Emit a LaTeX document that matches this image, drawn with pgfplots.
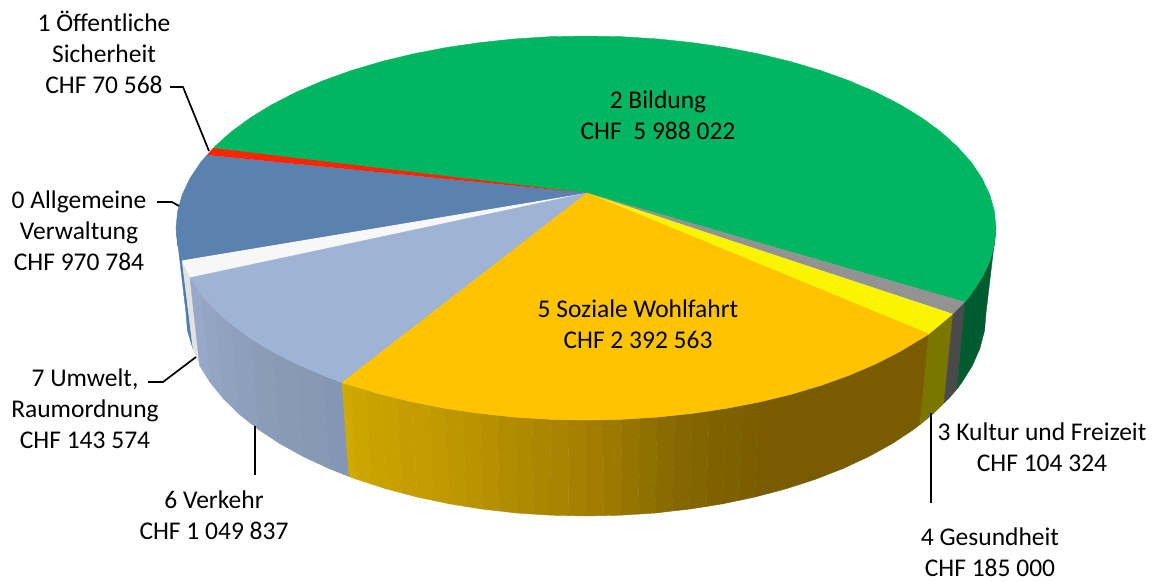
\documentclass[border=0pt]{standalone}
\usepackage{fontspec}
\setmainfont{Carlito}
\usepackage{pgfplots}
\pgfplotsset{compat=1.18}
\definecolor{l0}{HTML}{98A8C8}\definecolor{l1}{HTML}{94A5C4}\definecolor{l2}{HTML}{90A2C0}
\definecolor{l3}{HTML}{8D9FBC}\definecolor{l4}{HTML}{8A9CB8}\definecolor{l5}{HTML}{879AB6}
\definecolor{l6}{HTML}{8598B4}\definecolor{l7}{HTML}{8397B4}
\definecolor{gtop}{HTML}{00B660}\definecolor{btop}{HTML}{5A81AF}\definecolor{ltop}{HTML}{9FB3D4}
\definecolor{otop}{HTML}{FFC300}\definecolor{ytop}{HTML}{F9F400}\definecolor{grtop}{HTML}{939393}
\definecolor{rtop}{HTML}{FF2400}\definecolor{wtop}{HTML}{F7F7F7}
\definecolor{gside}{HTML}{005C2E}\definecolor{grside}{HTML}{4A4A4A}\definecolor{yside}{HTML}{7A7600}
\definecolor{bside}{HTML}{4F7CAC}\definecolor{wside}{HTML}{E2E2E2}
\pgfplotsset{s/.style={fill=#1,draw=#1,line width=0.4pt},ld/.style={black,line width=1.7pt,line join=round}}
\definecolor{a0}{HTML}{CFA800}\definecolor{a1}{HTML}{CBA500}\definecolor{a2}{HTML}{C8A300}
\definecolor{a3}{HTML}{C6A100}\definecolor{a4}{HTML}{C49E00}\definecolor{a5}{HTML}{C39D00}
\definecolor{a6}{HTML}{C09A00}\definecolor{a7}{HTML}{BD9700}\definecolor{a8}{HTML}{B99300}
\definecolor{a9}{HTML}{B69000}\definecolor{a10}{HTML}{B28C00}\definecolor{a11}{HTML}{AF8900}
\definecolor{a12}{HTML}{AC8600}\definecolor{a13}{HTML}{A98400}\definecolor{a14}{HTML}{A68000}
\definecolor{a15}{HTML}{A27D00}\definecolor{a16}{HTML}{9D7900}\definecolor{a17}{HTML}{967400}
\definecolor{a18}{HTML}{8F7000}\definecolor{a19}{HTML}{8A6B00}\definecolor{a20}{HTML}{866600}
\definecolor{a21}{HTML}{826400}\definecolor{a22}{HTML}{7F6200}\definecolor{a23}{HTML}{7D6000}
\definecolor{a24}{HTML}{7B5E00}\definecolor{a25}{HTML}{7A5C00}
\begin{document}
\begin{tikzpicture}
\begin{axis}[width=1164pt,height=581pt,scale only axis,hide axis,clip=false,
  xmin=0,xmax=1164,ymin=0,ymax=581,y dir=reverse,
  nodes={font=\fontsize{25.5}{31}\selectfont,align=center,inner sep=0pt,text=black}]
\path (axis cs:0,0) rectangle (axis cs:1164,581);
% side walls
\addplot[s=bside] coordinates {(176,228)(177.6,244.7)(182.2,261.3)(193,349)(187.5,330.7)(186,313)} --cycle;
\addplot[s=wside] coordinates {(182.2,261.3)(190,277.7)(199.6,365.5)(193,349)} --cycle;
\addplot[s=l0] coordinates {(190,277.7)(200.7,293.7)(210.1,382.4)(199.6,365.5)} --cycle;
\addplot[s=l1] coordinates {(200.7,293.7)(214.4,309.1)(223.5,398.8)(210.1,382.4)} --cycle;
\addplot[s=l2] coordinates {(214.4,309.1)(230.9,324)(239.6,414.5)(223.5,398.8)} --cycle;
\addplot[s=l3] coordinates {(230.9,324)(250.1,338.1)(258.3,429.4)(239.6,414.5)} --cycle;
\addplot[s=l4] coordinates {(250.1,338.1)(271.9,351.4)(279.6,443.5)(258.3,429.4)} --cycle;
\addplot[s=l5] coordinates {(271.9,351.4)(296.1,363.8)(303.2,456.5)(279.6,443.5)} --cycle;
\addplot[s=l6] coordinates {(296.1,363.8)(322.5,375.1)(328.9,468.5)(303.2,456.5)} --cycle;
\addplot[s=l7] coordinates {(322.5,375.1)(342,382.6)(349,476.5)(328.9,468.5)} --cycle;
\addplot[s=a0] coordinates {(342,382.6)(350.8,385.3)(356.6,479.3)(349,476.5)} --cycle;
\addplot[s=a1] coordinates {(350.8,385.3)(365.9,389.8)(371.3,484)(356.6,479.3)} --cycle;
\addplot[s=a2] coordinates {(365.9,389.8)(381,394.3)(386,488.8)(371.3,484)} --cycle;
\addplot[s=a3] coordinates {(381,394.3)(396.9,398.2)(401.5,492.9)(386,488.8)} --cycle;
\addplot[s=a4] coordinates {(396.9,398.2)(412.7,402)(417,497)(401.5,492.9)} --cycle;
\addplot[s=a5] coordinates {(412.7,402)(429.3,405.2)(433.1,500.4)(417,497)} --cycle;
\addplot[s=a6] coordinates {(429.3,405.2)(445.8,408.4)(449.2,503.8)(433.1,500.4)} --cycle;
\addplot[s=a7] coordinates {(445.8,408.4)(462.9,410.9)(465.9,506.5)(449.2,503.8)} --cycle;
\addplot[s=a8] coordinates {(462.9,410.9)(479.9,413.4)(482.5,509.1)(465.9,506.5)} --cycle;
\addplot[s=a9] coordinates {(479.9,413.4)(497.4,415.3)(499.5,511)(482.5,509.1)} --cycle;
\addplot[s=a10] coordinates {(497.4,415.3)(514.8,417.1)(516.5,513)(499.5,511)} --cycle;
\addplot[s=a11] coordinates {(514.8,417.1)(532.5,418.2)(533.8,514.1)(516.5,513)} --cycle;
\addplot[s=a12] coordinates {(532.5,418.2)(550.2,419.3)(551.1,515.2)(533.8,514.1)} --cycle;
\addplot[s=a13] coordinates {(550.2,419.3)(568.1,419.7)(568.6,515.6)(551.1,515.2)} --cycle;
\addplot[s=a14] coordinates {(568.1,419.7)(586,420)(586,516)(568.6,515.6)} --cycle;
\addplot[s=a15] coordinates {(586,420)(603.9,419.7)(603.5,515.6)(586,516)} --cycle;
\addplot[s=a16] coordinates {(603.9,419.7)(621.8,419.3)(620.9,515.2)(603.5,515.6)} --cycle;
\addplot[s=a17] coordinates {(621.8,419.3)(639.5,418.2)(638.2,514.1)(620.9,515.2)} --cycle;
\addplot[s=a18] coordinates {(639.5,418.2)(657.2,417.1)(655.5,513)(638.2,514.1)} --cycle;
\addplot[s=a19] coordinates {(657.2,417.1)(674.7,415.3)(672.5,511)(655.5,513)} --cycle;
\addplot[s=a20] coordinates {(674.7,415.3)(692.1,413.4)(689.5,509.1)(672.5,511)} --cycle;
\addplot[s=a21] coordinates {(692.1,413.4)(709.2,410.9)(706.2,506.5)(689.5,509.1)} --cycle;
\addplot[s=a22] coordinates {(709.2,410.9)(726.2,408.4)(722.8,503.8)(706.2,506.5)} --cycle;
\addplot[s=a23] coordinates {(726.2,408.4)(742.8,405.2)(738.9,500.4)(722.8,503.8)} --cycle;
\addplot[s=a24] coordinates {(742.8,405.2)(759.3,402)(755,497)(738.9,500.4)} --cycle;
\addplot[s=a25] coordinates {(759.3,402)(791,394.3)(821.2,385.3)(849.5,375.1)(875.9,363.8)(900.1,351.4)(929,334)(920,424.5)(913.7,429.4)(892.4,443.5)(868.8,456.5)(843.1,468.5)(815.4,479.3)(786,488.8)(755,497)} --cycle;
\addplot[s=yside] coordinates {(929,334)(941.1,324)(953,314)(944,403)(932.4,414.5)(920,424.5)} --cycle;
\addplot[s=grside] coordinates {(953,314)(957.6,309.1)(965,302)(957,389)(948.5,398.8)(944,403)} --cycle;
\addplot[s=gside] coordinates {(965,302)(971.3,293.7)(982,277.7)(989.8,261.3)(994.4,244.7)(996,228)(986,313)(984.5,330.7)(979.9,348.3)(972.4,365.5)(961.9,382.4)(957,389)} --cycle;
% top slices
\addplot[s=gtop] coordinates {(587,193)(965,302)(971.3,293.7)(982,277.7)(989.8,261.3)(994.4,244.7)(996,228)(994.4,211.3)(989.8,194.7)(982,178.3)(971.3,162.3)(957.6,146.9)(941.1,132)(921.9,117.9)(900.1,104.6)(875.9,92.2)(849.5,80.9)(821.2,70.7)(791,61.7)(759.3,54)(726.2,47.6)(692.1,42.6)(657.2,38.9)(621.8,36.7)(586,36)(550.2,36.7)(514.8,38.9)(479.9,42.6)(445.8,47.6)(412.7,54)(381,61.7)(350.8,70.7)(322.5,80.9)(296.1,92.2)(271.9,104.6)(250.1,117.9)(230.9,132)(214.4,146.9)(213,149)} --cycle;
\addplot[s=btop] coordinates {(587,193)(207,155)(200.7,162.3)(190,178.3)(182.2,194.7)(177.6,211.3)(176,228)(177.6,244.7)(182.2,260.5)} --cycle;
\addplot[fill=rtop,draw=none] coordinates {(587,193)(213,148)(207,155)} --cycle;
\addplot[fill=wtop,draw=none] coordinates {(587,193)(182.2,260.5)(190,277.7)} --cycle;
\addplot[s=ltop] coordinates {(587,193)(190,277.7)(200.7,293.7)(214.4,309.1)(230.9,324)(250.1,338.1)(271.9,351.4)(296.1,363.8)(322.5,375.1)(342,382.6)} --cycle;
\addplot[fill=grtop,draw=none] coordinates {(587,193)(953,314)(957.6,309.1)(965,302)} --cycle;
\addplot[fill=ytop,draw=none] coordinates {(587,193)(929,334)(941.1,324)(953,314)} --cycle;
\addplot[s=otop] coordinates {(587,193)(342,382.6)(350.8,385.3)(381,394.3)(412.7,402)(445.8,408.4)(479.9,413.4)(514.8,417.1)(550.2,419.3)(586,420)(621.8,419.3)(657.2,417.1)(692.1,413.4)(726.2,408.4)(759.3,402)(791,394.3)(821.2,385.3)(849.5,375.1)(875.9,363.8)(900.1,351.4)(929,334)} --cycle;
% leader lines
\addplot[ld] coordinates {(170,87)(183,87)(209,151)};
\addplot[ld] coordinates {(157,202)(172,202)(179,206)};
\addplot[ld] coordinates {(148,382)(163,382)(196,357)};
\addplot[ld] coordinates {(255,426)(255,475)};
\addplot[ld] coordinates {(931,413)(931,503)};
% labels
\node at (axis cs:104,52.5) {1 Öffentliche\\Sicherheit\\CHF 70 568};
\node at (axis cs:79,231) {0 Allgemeine\\Verwaltung\\CHF 970 784};
\node at (axis cs:85,409) {7 Umwelt,\\Raumordnung\\CHF 143 574};
\node at (axis cs:214,515) {6 Verkehr\\CHF 1 049 837};
\node at (axis cs:658,115) {2 Bildung\\CHF\ \ 5 988 022};
\node at (axis cs:638,324) {5 Soziale Wohlfahrt\\CHF 2 392 563};
\node at (axis cs:1042,447) {3 Kultur und Freizeit\\CHF 104 324};
\node at (axis cs:990,552) {4 Gesundheit\\CHF 185 000};
\end{axis}
\end{tikzpicture}
\end{document}
